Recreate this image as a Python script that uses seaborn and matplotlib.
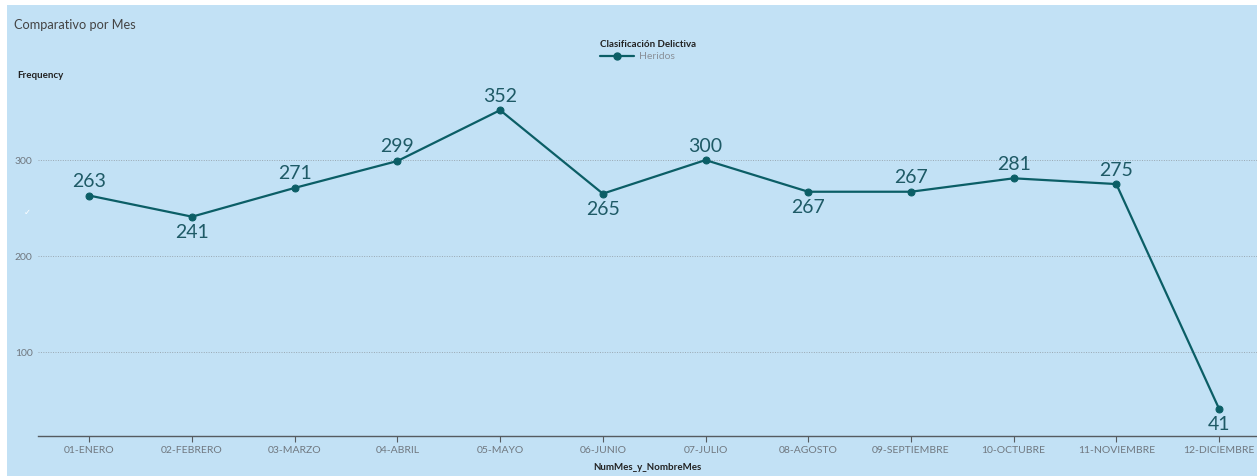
import matplotlib
matplotlib.use("Agg")
import matplotlib.pyplot as plt
from matplotlib.patches import Rectangle
from matplotlib.lines import Line2D
import seaborn as sns
import pandas as pd

months = ["01-ENERO", "02-FEBRERO", "03-MARZO", "04-ABRIL", "05-MAYO", "06-JUNIO",
          "07-JULIO", "08-AGOSTO", "09-SEPTIEMBRE", "10-OCTUBRE", "11-NOVIEMBRE", "12-DICIEMBRE"]
heridos = [263, 241, 271, 299, 352, 265, 300, 267, 267, 281, 275, 41]
label_below = [False, True, False, False, False, True, False, True, False, False, False, True]
yticks = [100, 200, 300]

BG = "#C2E1F5"
LINE = "#0B5E66"
TXT = "#1E5A66"
GRAY = "#707880"

sns.set_theme(style="white")
plt.rcParams['font.family'] = ['Lato', 'DejaVu Sans']

fig = plt.figure(figsize=(12.57, 4.76), dpi=100, facecolor="white")
fig.patches.append(Rectangle((7/1257, 0), 1, 1 - 5/476, transform=fig.transFigure,
                             facecolor=BG, edgecolor="none", zorder=-10))
ax = fig.add_axes([38/1257, 1 - 436/476, 1 - 38/1257, (436 - 90)/476])
ax.set_facecolor(BG)

df = pd.DataFrame({"mes": months, "Heridos": heridos, "x": range(len(months))})
sns.lineplot(data=df, x="x", y="Heridos", ax=ax, color=LINE, linewidth=1.6,
             marker="o", markersize=5, markeredgecolor=LINE, markerfacecolor=LINE,
             legend=False)

for i, v in enumerate(heridos):
    if label_below[i]:
        ax.annotate(str(v), (i, v), xytext=(0, -5), textcoords="offset points",
                    ha="center", va="top", fontsize=14, color=TXT)
    else:
        ax.annotate(str(v), (i, v), xytext=(0, 4), textcoords="offset points",
                    ha="center", va="bottom", fontsize=14, color=TXT)

ax.set_xlim(-0.5, 11.37)
ax.set_ylim(12.5, 373)
ax.set_xticks(range(len(months)))
ax.set_xticklabels(months, fontsize=7.5, color=GRAY)
ax.set_yticks(yticks)
ax.set_yticklabels([str(t) for t in yticks], fontsize=7.5, color=GRAY)
ax.tick_params(axis="x", length=4, width=0.8, color="#555b60", pad=3, direction="out", bottom=True)
ax.tick_params(axis="y", length=0, pad=4)
ax.grid(axis="y", linestyle=(0, (1, 1.5)), color="#9aa8b2", linewidth=0.7)
ax.set_axisbelow(True)
for s in ["top", "right", "left"]:
    ax.spines[s].set_visible(False)
ax.spines["bottom"].set_color("#555b60")
ax.spines["bottom"].set_linewidth(1.0)
ax.set_xlabel("NumMes_y_NombreMes", fontsize=7, fontweight="bold", color="#222222", labelpad=6)
ax.set_ylabel("")

fig.text(14/1257, 1 - 25/476, "Comparativo por Mes", fontsize=9.2, color="#444444",
         ha="left", va="center")
fig.text(17/1257, 1 - 76/476, "Frequency", fontsize=7, fontweight="bold", color="#222222",
         ha="left", va="center")
fig.text(27/1257, 1 - 212/476, "\u2713", fontsize=6, color="white", ha="center", va="center",
         family=["DejaVu Sans"])

handle = Line2D([], [], color=LINE, linewidth=1.6, marker="o", markersize=5)
leg = fig.legend([handle], ["Heridos"], loc="upper left", bbox_to_anchor=(600/1257, 1 - 40/476),
                 title="Clasificación Delictiva", frameon=False, fontsize=7.5,
                 title_fontproperties={"weight": "bold", "size": 7}, handlelength=3.3,
                 handletextpad=0.4, borderpad=0, borderaxespad=0, labelspacing=0.3,
                 alignment="left")
for t in leg.get_texts():
    t.set_color("#8a9098")
leg.get_title().set_color("#222222")

fig.savefig("out.png", dpi=100, facecolor="white")
